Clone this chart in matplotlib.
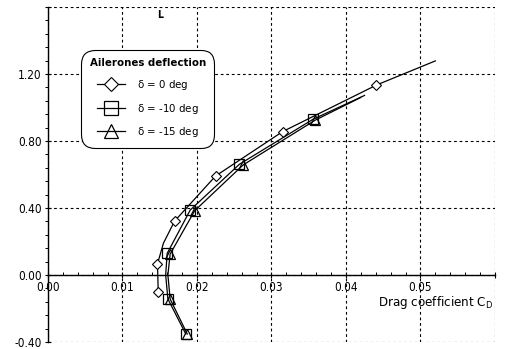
import numpy as np
from matplotlib import pyplot as plt
from matplotlib.ticker import MultipleLocator, FixedLocator

plt.rcParams['font.family'] = ['DejaVu Sans']
plt.rcParams['font.stretch'] = 'condensed'
plt.rcParams['mathtext.default'] = 'regular'

#=========+
#  Data   |
#=========+
# delta = 0 deg
cd_0 = [0.0148, 0.0147, 0.0155, 0.0170, 0.0225, 0.0315, 0.0441, 0.0520]
cl_0 = [-0.100, 0.066, 0.190, 0.322, 0.591, 0.856, 1.134, 1.278]
mark_0 = [0, 1, 3, 4, 5, 6]

# delta = -10 deg
cd_10 = [0.0185, 0.0161, 0.0158, 0.0160, 0.0191, 0.0257, 0.0356, 0.0425]
cl_10 = [-0.352, -0.143, 0.0, 0.129, 0.388, 0.661, 0.930, 1.072]
mark_10 = [0, 1, 3, 4, 5, 6]

# delta = -15 deg
cd_15 = [0.0187, 0.0164, 0.0161, 0.0164, 0.0197, 0.0262, 0.0359, 0.0420]
cl_15 = [-0.352, -0.143, 0.0, 0.125, 0.384, 0.657, 0.925, 1.060]
mark_15 = [0, 1, 3, 4, 5, 6]

x_ticks = [0.00, 0.01, 0.02, 0.03, 0.04, 0.05, 0.06]
x_labels = ['0.00', '0.01', '0.02', '0.03', '0.04', '0.05', '']
y_ticks = [-0.40, 0.00, 0.40, 0.80, 1.20, 1.60]
y_labels = ['-0.40', '0.00', '0.40', '0.80', '1.20', '']

#================+
# Graph Plotting |
#================+
fig = plt.figure(figsize=(5.05, 3.49), dpi=100)
ax = fig.add_axes([0.095, 0.020, 0.885, 0.960])

ax.plot(cd_0, cl_0, color='k', lw=0.9, marker='D', ms=5, mfc='white', mec='k', mew=0.8,
        markevery=mark_0, label=r'$\delta$ = 0 deg')
ax.plot(cd_10, cl_10, color='k', lw=0.9, marker='s', ms=7, mfc='none', mec='k', mew=0.9,
        markevery=mark_10, label=r'$\delta$ = -10 deg')
ax.plot(cd_15, cl_15, color='k', lw=0.9, marker='^', ms=7, mfc='none', mec='k', mew=0.9,
        markevery=mark_15, label=r'$\delta$ = -15 deg')

ax.set_xlim(0, 0.06)
ax.set_ylim(-0.40, 1.60)
ax.xaxis.set_major_locator(FixedLocator(x_ticks))
ax.set_xticklabels(x_labels)
ax.yaxis.set_major_locator(FixedLocator(y_ticks))
ax.set_yticklabels(y_labels)
ax.xaxis.set_minor_locator(MultipleLocator(0.002))
ax.yaxis.set_minor_locator(MultipleLocator(0.08))

ax.spines['bottom'].set_position(('data', 0))
ax.spines['top'].set_visible(False)
ax.spines['right'].set_visible(False)
ax.spines['left'].set_linewidth(1.0)
ax.spines['bottom'].set_linewidth(1.0)

ax.tick_params(axis='x', which='major', direction='inout', length=5, width=0.8, labelsize=8.5, pad=2)
ax.tick_params(axis='x', which='minor', direction='in', length=2.5, width=0.7)
ax.tick_params(axis='y', which='major', direction='inout', length=5, width=0.8, labelsize=8.5, pad=2)
ax.tick_params(axis='y', which='minor', direction='out', length=2.5, width=0.7)

ax.grid(True, which='major', color='k', linestyle=(0, (2.5, 2.5)), linewidth=0.8)
ax.set_axisbelow(True)

ax.text(0.0150, 1.552, 'L', fontsize=7.5, fontweight='bold', ha='center', va='center')
ax.text(0.0598, -0.165, 'Drag coefficient C$_D$', fontsize=9.5, ha='right', va='center')

lgd = ax.legend(loc='upper left', bbox_to_anchor=(0.074, 0.872), borderaxespad=0,
                title='Ailerones deflection',
                title_fontproperties={'weight': 'bold', 'size': 8.2, 'stretch': 'condensed'},
                fontsize=8.2, handlelength=2.5, handletextpad=1.0, markerscale=1.35,
                fancybox=True, framealpha=1, edgecolor='k', labelspacing=0.85, borderpad=0.75)
lgd.get_frame().set_linewidth(0.8)
lgd.get_frame().set_boxstyle('round', pad=0, rounding_size=1.2)

plt.savefig('out.png', dpi=100)
